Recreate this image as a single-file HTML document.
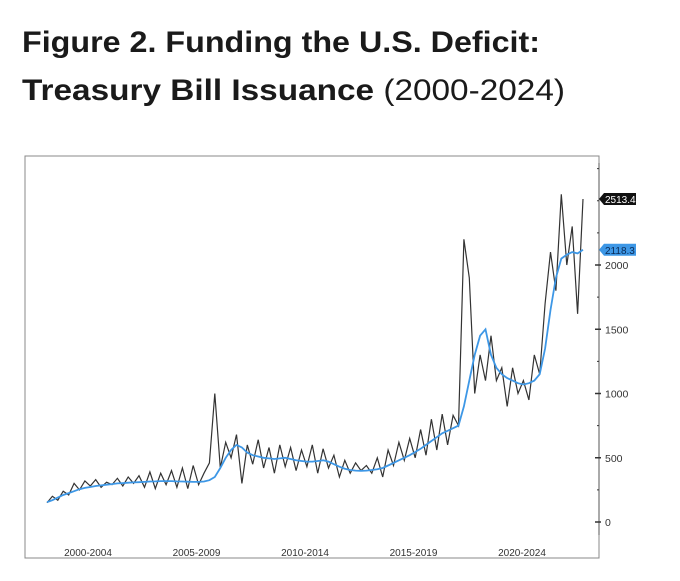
<!DOCTYPE html>
<html><head><meta charset="utf-8"><style>
html,body{margin:0;padding:0;background:#fff;width:680px;height:581px;overflow:hidden;font-family:"Liberation Sans",sans-serif;}
</style></head><body>
<svg id="chart" width="680" height="581" viewBox="0 0 680 581" xmlns="http://www.w3.org/2000/svg">
<text x="22" y="52" font-size="30" font-weight="bold" fill="#1a1a1a" textLength="518" lengthAdjust="spacingAndGlyphs">Figure 2. Funding the U.S. Deficit:</text>
<text x="22" y="100" font-size="30" fill="#1a1a1a" textLength="543" lengthAdjust="spacingAndGlyphs"><tspan font-weight="bold">Treasury Bill Issuance</tspan> (2000-2024)</text>
<rect x="25" y="156" width="574" height="402" fill="none" stroke="#888" stroke-width="1"/>
<g id="grid"></g>
<g id="axis"></g>
<path id="raw" fill="none" stroke="#333" stroke-width="1.2"/>
<path id="ma" fill="none" stroke="#3d97e6" stroke-width="1.8"/>
<g id="tags"></g>
</svg>
<script>
const periodLabels=["2000-2004","2005-2009","2010-2014","2015-2019","2020-2024"];
const yTicks=[0,500,1000,1500,2000];
const rawValues=[150,200,170,240,210,300,250,320,
280,330,270,310,290,340,280,350,
300,360,270,390,260,380,290,400,
270,420,260,440,290,380,460,1000,
420,620,500,680,300,600,450,640,
420,580,380,600,430,580,400,560,
430,600,380,570,420,520,350,480,
380,460,400,440,380,500,350,560,
440,620,480,650,500,720,520,800,
560,840,600,830,750,2200,1900,1000,
1300,1100,1450,1100,1200,900,1200,1000,
1100,950,1300,1150,1700,2100,1800,2550,
2000,2300,1620,2513.4];
const maValues=[155,170,190,210,225,240,255,265,
272,280,285,290,295,300,303,306,
308,310,312,315,316,318,318,318,
316,315,314,312,312,315,325,350,
420,500,560,600,580,540,520,510,
500,495,490,495,500,490,480,475,
470,470,475,480,470,450,430,415,
405,400,398,400,405,410,420,440,
460,480,500,520,545,570,600,630,
660,690,710,730,750,900,1100,1300,
1450,1500,1300,1200,1150,1120,1100,1080,
1070,1080,1100,1150,1350,1650,1900,2050,
2080,2100,2090,2118.3];
const X=i=>47+i*(536/99);
const Y=v=>522-v*0.1285;
const labelX=i=>88+108.5*i;
const NS="http://www.w3.org/2000/svg";
function mk(tag,attrs,parent){const e=document.createElementNS(NS,tag);for(const k in attrs)e.setAttribute(k,attrs[k]);parent.appendChild(e);return e;}
const axis=document.getElementById('axis'), grid=document.getElementById('grid'), tags=document.getElementById('tags');
const yl=mk('line',{x1:599,x2:599,y1:163,y2:535,stroke:'#555'},axis);


for(let v=0;v<=2750;v+=250){
  const major=yTicks.includes(v);
  const tk=mk('line',{x1:major?595:597,x2:major?601:599,y1:Y(v),y2:Y(v),stroke:'#333','stroke-width':major?1.5:1},axis);
  
  
}
yTicks.forEach(v=>{
  const t=mk('text',{x:605,y:Y(v)+4,'font-size':10.5,fill:'#333'},axis);
  t.textContent=v;
  
  
});
periodLabels.forEach((l,i)=>{
  const t=mk('text',{x:labelX(i),y:556,'font-size':10,fill:'#333','text-anchor':'middle'},axis);
  t.textContent=l;
  
  
});
function path(vals){return vals.map((v,i)=>(i?'L':'M')+X(i).toFixed(1)+' '+Y(v).toFixed(1)).join(' ');}
document.getElementById('raw').setAttribute('d',path(rawValues));
document.getElementById('ma').setAttribute('d',path(maValues));
function tag(val,bg,fg,name){
  const y=Y(val);
  const p=mk('path',{d:`M599 ${y} L604 ${y-6} L636 ${y-6} L636 ${y+6} L604 ${y+6} Z`,fill:bg},tags);
  
  
  const t=mk('text',{x:605,y:y+4,'font-size':10,fill:fg},tags);
  t.textContent=val.toFixed(1);
  
  
}
tag(rawValues[rawValues.length-1],'#111','#fff','last-value-tag');
tag(maValues[maValues.length-1],'#3d97e6','#0a2a55','average-value-tag');
</script>
</body></html>
